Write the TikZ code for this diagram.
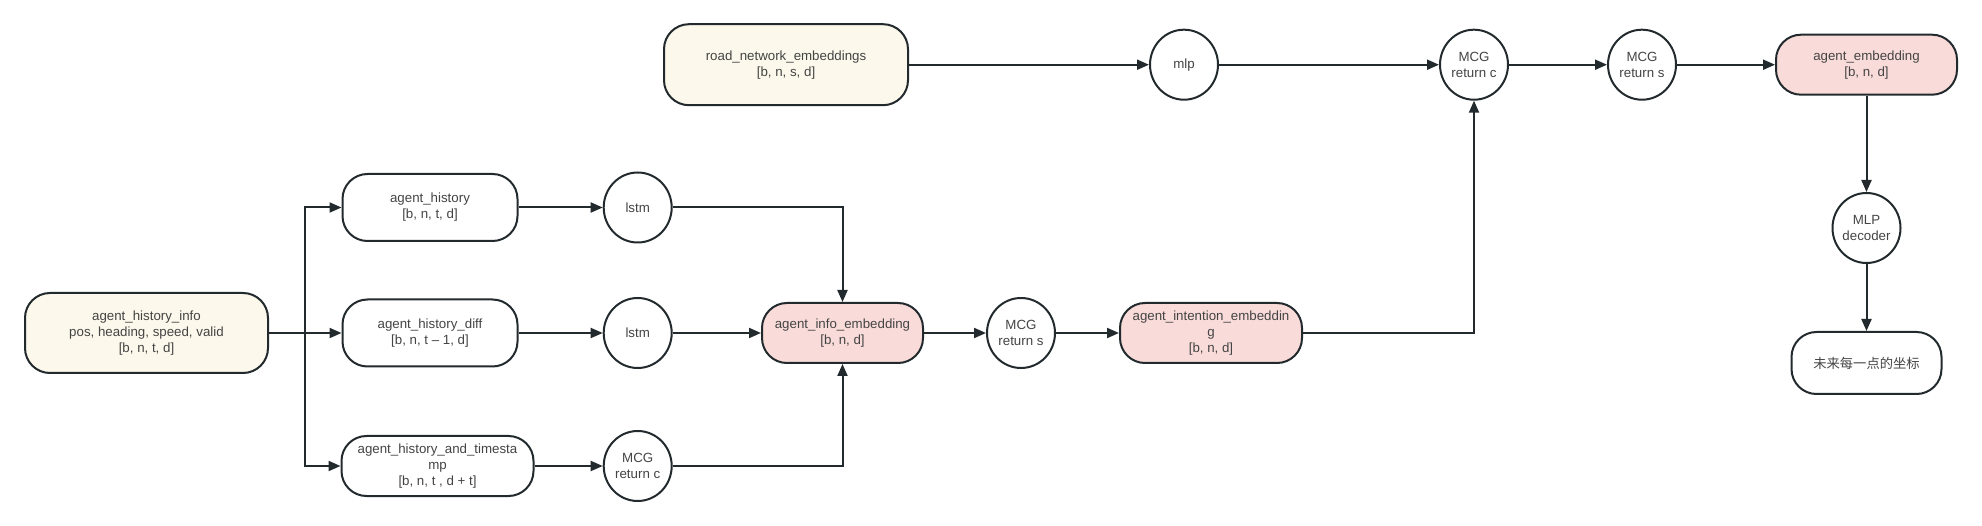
\documentclass[tikz,border=0pt]{standalone}
\usepackage{fontspec}
\setmainfont{Liberation Sans}
\newfontfamily\cjk{Noto Sans CJK SC}
\usetikzlibrary{arrows.meta,shapes.geometric}
\definecolor{cream}{HTML}{FCF8EB}
\definecolor{pinkf}{HTML}{F9DCDA}
\definecolor{edge}{HTML}{222A2E}
\definecolor{txt}{HTML}{444444}
\tikzset{
  base/.style={draw=edge, line width=2pt, text=txt, align=center, inner sep=0pt,
    font=\fontsize{13.3}{16}\selectfont},
  boxw/.style={base, rectangle, rounded corners=25pt, fill=white},
  boxy/.style={boxw, fill=cream},
  boxp/.style={boxw, fill=pinkf},
  op/.style={base, ellipse, fill=white, minimum width=68pt, minimum height=70pt},
  conn/.style={draw=edge, line width=2pt, -{Triangle[length=12pt,width=10pt]}}
}
\begin{document}
\begin{tikzpicture}[x=1pt,y=-1pt]
\useasboundingbox[fill=white] (0,0) rectangle (1982,526);
% left part
\node[boxy, minimum width=243pt, minimum height=80pt] (info) at (146.5,333)
  {agent\_history\_info\\pos, heading, speed, valid\\{[}b, n, t, d{]}};
\node[boxw, minimum width=175pt, minimum height=67pt] (hist) at (430,207.5)
  {agent\_history\\{[}b, n, t, d{]}};
\node[boxw, minimum width=175pt, minimum height=67pt] (diff) at (430,333)
  {agent\_history\_diff\\{[}b, n, t -- 1, d{]}};
\node[boxw, minimum width=192pt, minimum height=60pt] (ts) at (437.5,466)
  {agent\_history\_and\_timesta\\mp\\{[}b, n, t , d + t{]}};
\node[op] (lstma) at (637.7,207.5) {lstm};
\node[op] (lstmb) at (637.7,333) {lstm};
\node[op] (mcgca) at (637.7,466) {MCG\\return c};
\node[boxp, minimum width=161pt, minimum height=60pt] (infoemb) at (842.5,333)
  {agent\_info\_embedding\\{[}b, n, d{]}};
\node[op] (mcgsa) at (1021,333) {MCG\\return s};
\node[boxp, minimum width=182pt, minimum height=60pt] (intent) at (1211,333)
  {agent\_intention\_embeddin\\g\\{[}b, n, d{]}};
% top part
\node[boxy, minimum width=244pt, minimum height=81pt] (road) at (786,64.7)
  {road\_network\_embeddings\\{[}b, n, s, d{]}};
\node[op] (mlp) at (1184,64.7) {mlp};
\node[op] (mcgcb) at (1474,64.7) {MCG\\return c};
\node[op] (mcgsb) at (1642,64.7) {MCG\\return s};
\node[boxp, minimum width=181pt, minimum height=60pt] (agemb) at (1866.5,64.7)
  {agent\_embedding\\{[}b, n, d{]}};
\node[op] (dec) at (1866.5,228) {MLP\\decoder};
\node[boxw, minimum width=150pt, minimum height=62pt] (out) at (1866.5,363)
  {{\cjk 未来每一点的坐标}};
% connectors
\coordinate (br) at (305,333);
\draw[conn] (info.east) -- (diff.west);
\draw[conn] (br) |- (hist.west);
\draw[conn] (br) |- (ts.west);
\draw[conn] (hist.east) -- (lstma.west);
\draw[conn] (diff.east) -- (lstmb.west);
\draw[conn] (ts.east) -- (ts.east -| mcgca.west);
\draw[conn] (lstma.east) -| (infoemb.north);
\draw[conn] (lstmb.east) -- (infoemb.west);
\draw[conn] (mcgca.east) -| (infoemb.south);
\draw[conn] (infoemb.east) -- (mcgsa.west);
\draw[conn] (mcgsa.east) -- (intent.west);
\draw[conn] (intent.east) -| (mcgcb.south);
\draw[conn] (road.east) -- (mlp.west);
\draw[conn] (mlp.east) -- (mcgcb.west);
\draw[conn] (mcgcb.east) -- (mcgsb.west);
\draw[conn] (mcgsb.east) -- (agemb.west);
\draw[conn] (agemb.south) -- (dec.north);
\draw[conn] (dec.south) -- (out.north);
\end{tikzpicture}
\end{document}
